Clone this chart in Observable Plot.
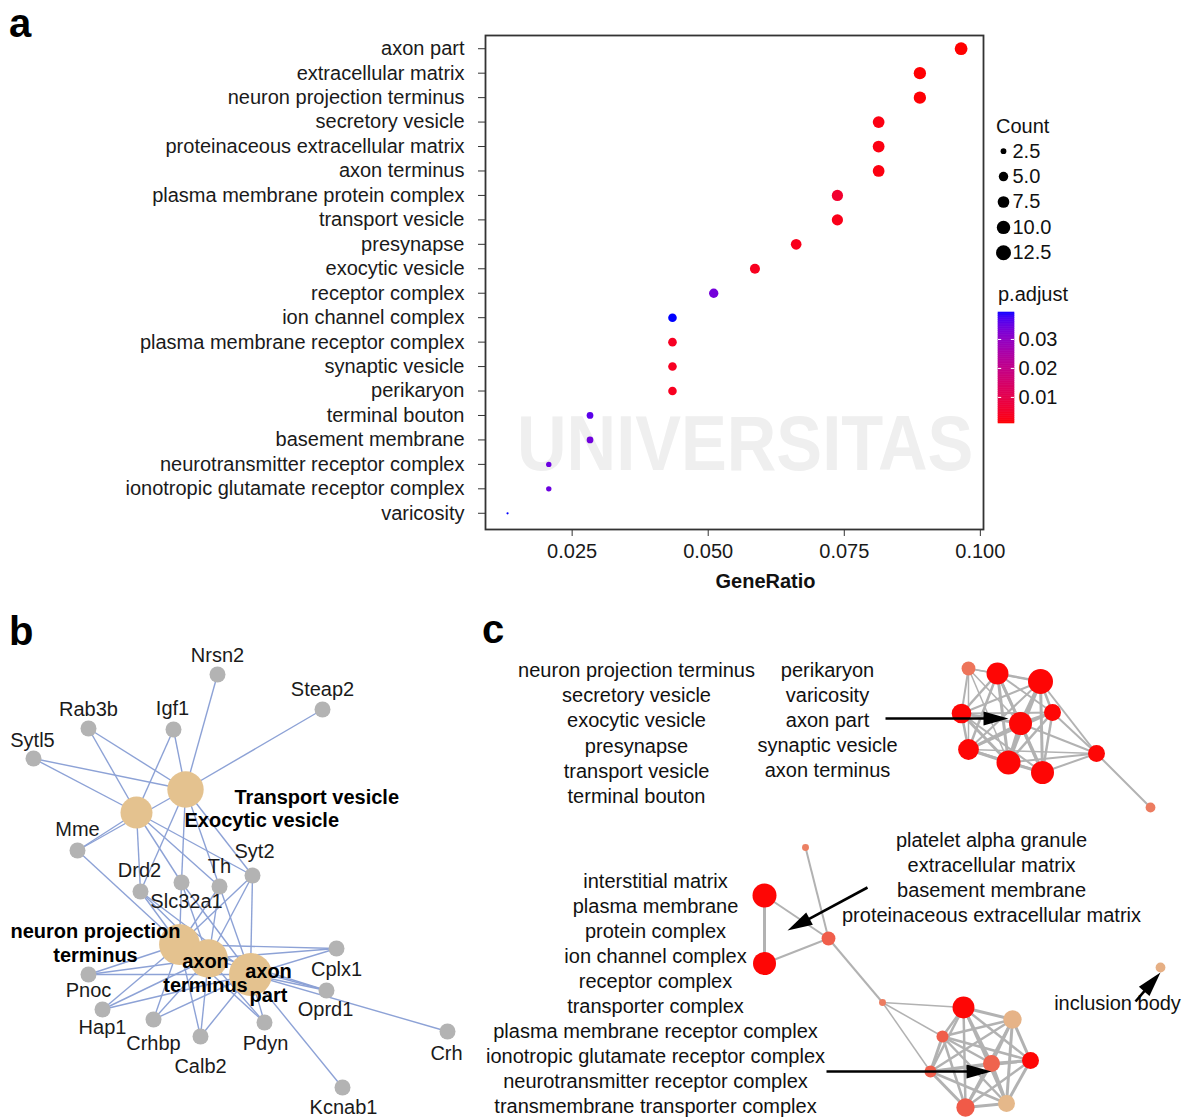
<!DOCTYPE html>
<html>
<head>
<meta charset="utf-8">
<script src="https://cdn.jsdelivr.net/npm/d3@7"></script>
<script src="https://cdn.jsdelivr.net/npm/@observablehq/plot@0.6"></script>
<style>
  body { margin: 0; background: #fff; font-family: "Liberation Sans", Arial, Helvetica, sans-serif; }
  #fig { position: relative; width: 1187px; height: 1117px; overflow: hidden; background: #fff; }
  .letter { position: absolute; font-weight: bold; font-size: 40px; line-height: 1.12; color: #000; }
  .legtitle { position: absolute; font-size: 20px; line-height: 20px; color: #111; }
  .wm { position: absolute; white-space: nowrap; color: #efefef; }
</style>
</head>
<body>
<div id="fig">
  <div class="wm" style="left:517px;top:404px;font-size:78px;line-height:78px;font-weight:bold;transform:scaleX(0.88);transform-origin:left top;">UNIVERSITAS</div>
  <div class="letter" style="left:9px;top:1px;">a</div>
  <div class="letter" style="left:9px;top:609px;">b</div>
  <div class="letter" style="left:482px;top:607px;">c</div>
  <div class="legtitle" style="left:996px;top:116px;">Count</div>
  <div class="legtitle" style="left:998px;top:284px;">p.adjust</div>
</div>
<script>
// ---------------- Panel a data ----------------
const terms = ["axon part","extracellular matrix","neuron projection terminus","secretory vesicle",
  "proteinaceous extracellular matrix","axon terminus","plasma membrane protein complex","transport vesicle",
  "presynapse","exocytic vesicle","receptor complex","ion channel complex","plasma membrane receptor complex",
  "synaptic vesicle","perikaryon","terminal bouton","basement membrane","neurotransmitter receptor complex",
  "ionotropic glutamate receptor complex","varicosity"];
const counts = [13,12,12,11,11,11,10,10,9,8,7,6,6,6,6,4,4,3,3,2];
const geneTotal = 132; // GeneRatio = Count / 132
const pAdjust = [0.0010,0.0011,0.0013,0.0022,0.0022,0.0020,0.0055,0.0028,0.0030,0.0035,0.0335,0.0393,0.0040,
  0.0038,0.0036,0.0360,0.0340,0.0345,0.0345,0.0393];
const xTicks = [0.025,0.050,0.075,0.100];
const countLegend = [2.5,5,7.5,10,12.5];
const pLegendTicks = [0.01,0.02,0.03];

// ---------------- Panel b data ----------------
const genes = ["Nrsn2","Steap2","Rab3b","Igf1","Sytl5","Mme","Drd2","Slc32a1","Th","Syt2","Cplx1","Oprd1",
  "Crh","Kcnab1","Pdyn","Calb2","Crhbp","Hap1","Pnoc"];
const geneLayoutX = [217,322,88,173,33,77,140,181,219,252,336,326,447,342,264,200,153,102,88];
const geneLayoutY = [674,709,728,729,758,850,891,882,886,875,948,990,1031,1087,1022,1036,1019,1009,974];
const hubs = ["Transport vesicle","Exocytic vesicle","neuron projection terminus","axon terminus","axon part"];
const hubCounts = [10,8,12,11,13];
const hubLayoutX = [185,136,179,208,250];
const hubLayoutY = [789,812,944,958,974];
const hubGenes = [
  ["Nrsn2","Steap2","Rab3b","Igf1","Sytl5","Mme","Drd2","Slc32a1","Th","Syt2"],
  ["Rab3b","Igf1","Sytl5","Mme","Drd2","Slc32a1","Th","Syt2"],
  ["Mme","Drd2","Slc32a1","Th","Syt2","Cplx1","Oprd1","Pnoc","Hap1","Crhbp","Calb2","Pdyn"],
  ["Drd2","Slc32a1","Th","Syt2","Cplx1","Oprd1","Pnoc","Hap1","Crhbp","Calb2","Pdyn"],
  ["Drd2","Slc32a1","Th","Syt2","Cplx1","Oprd1","Pnoc","Hap1","Crhbp","Calb2","Pdyn","Crh","Kcnab1"]
];

// ---------------- Panel c data ----------------
const cKeys = ["TB","TV","AP","EV","SV","PK","PS","NPT","AT","SYN","VAR","PAG","ECM","PECM","BM","IM",
  "PMPC","RC","NRC","IGRC","TC","PMRC","TTC","ICC","IB"];
const cTerms = ["terminal bouton","transport vesicle","axon part","exocytic vesicle","secretory vesicle","perikaryon",
  "presynapse","neuron projection terminus","axon terminus","synaptic vesicle","varicosity","platelet alpha granule",
  "extracellular matrix","proteinaceous extracellular matrix","basement membrane","interstitial matrix",
  "plasma membrane protein complex","receptor complex","neurotransmitter receptor complex",
  "ionotropic glutamate receptor complex","transporter complex","plasma membrane receptor complex",
  "transmembrane transporter complex","ion channel complex","inclusion body"];
const cLayoutX = [968,997,1040,961,1020,1052,968,1008,1042,1096,1150,805,764,764,828,882,963,1012,942,930,991,1030,965,1006,1160];
const cLayoutY = [668,673,681,713,723,712,749,762,772,753,807,847,895,963,938,1002,1007,1019,1036,1071,1063,1060,1107,1103,967];
const cCounts = [4,10,13,8,11,6,9,12,11,6,2,1,12,11,4,1,10,7,3,3,6,6,7,6,2];
const cP = [0.022,0.001,0.001,0.001,0.001,0.001,0.001,0.001,0.001,0.001,0.024,0.025,0.001,0.001,0.017,0.024,
  0.001,0.037,0.017,0.017,0.018,0.001,0.016,0.038,0.036];
const cEdges = [
  "TB TV 1.5","TB AP 1.5","TB EV 2","TB SV 1.5","TB PS 1.5","TB NPT 1.5",
  "TV AP 2.5","TV EV 2.5","TV SV 3","TV PK 2","TV PS 2.5","TV NPT 3","TV AT 2.5",
  "AP EV 2","AP SV 3.5","AP PK 2.5","AP PS 2","AP NPT 3","AP AT 3","AP SYN 2",
  "EV SV 3","EV PS 2.5","EV NPT 3","EV AT 2","EV PK 2",
  "SV PK 3","SV PS 3","SV NPT 4","SV AT 3.5","SV SYN 2",
  "PK PS 2","PK NPT 2.5","PK AT 2.5","PK SYN 2",
  "PS NPT 3","PS AT 2.5","PS SYN 1.5",
  "NPT AT 3","NPT SYN 2","AT SYN 2","SYN VAR 2",
  "ECM PECM 3","ECM BM 2","PECM BM 2","PAG BM 2","BM IM 2","IM PMPC 1.5","IM NRC 1.5","IM IGRC 1.5",
  "PMPC RC 3","PMPC NRC 2.5","PMPC IGRC 2.5","PMPC TC 3","PMPC PMRC 2.5","PMPC TTC 2.5","PMPC ICC 2.5",
  "RC NRC 2.5","RC IGRC 2.5","RC TC 3","RC PMRC 3","RC TTC 2.5","RC ICC 3",
  "NRC IGRC 3","NRC TC 2.5","NRC PMRC 2.5","NRC TTC 2.5","NRC ICC 2.5",
  "IGRC TC 3","IGRC PMRC 2.5","IGRC TTC 3","IGRC ICC 2.5",
  "TC PMRC 3","TC TTC 3","TC ICC 3.5","PMRC TTC 2.5","PMRC ICC 3","TTC ICC 3"
];
const cLabelGroups = [
  ["neuron projection terminus","secretory vesicle","exocytic vesicle","presynapse","transport vesicle","terminal bouton"],
  ["perikaryon","varicosity","axon part","synaptic vesicle","axon terminus"],
  ["platelet alpha granule","extracellular matrix","basement membrane","proteinaceous extracellular matrix"],
  ["interstitial matrix","plasma membrane","protein complex","ion channel complex","receptor complex",
   "transporter complex","plasma membrane receptor complex","ionotropic glutamate receptor complex",
   "neurotransmitter receptor complex","transmembrane transporter complex"],
  ["inclusion body"]
];

// ---------------- layout / style ----------------
const FONT = '"Liberation Sans", Arial, Helvetica, sans-serif';
const fig = document.getElementById("fig");
function place(node, left, top) {
  node.style.position = "absolute"; node.style.left = left + "px"; node.style.top = top + "px";
  fig.appendChild(node);
}
const colorA = {type: "linear", domain: [d3.min(pAdjust), d3.max(pAdjust)], range: ["#ff0000", "#0000ff"], interpolate: "lab"};
// area-style size scale (like ggplot scale_size): radius grows with sqrt(count - min)
const rA = {type: "pow", exponent: 0.5, transform: c => c - 2, domain: [0, 11], range: [1.1, 6.4]};
const rLegend = {type: "pow", exponent: 0.5, transform: c => c - 2, domain: [0, 11], range: [1.6, 7.6]};

// ---------------- Panel a ----------------
const dataA = terms.map((t, i) => ({term: t, count: counts[i], ratio: counts[i] / geneTotal, p: pAdjust[i]}));
const plotA = Plot.plot({
  width: 1012, height: 600,
  marginLeft: 485, marginRight: 29, marginTop: 35, marginBottom: 71,
  style: {fontFamily: FONT, fontSize: "20px", color: "#1a1a1a", background: "transparent"},
  x: {domain: [0.0111, 0.1026]},
  y: {type: "point", domain: terms, padding: 0.5, insetTop: 1, insetBottom: 4, round: false},
  r: rA,
  color: colorA,
  marks: [
    Plot.axisY({tickSize: 7, tickPadding: 14, label: null, stroke: "#333"}),
    Plot.axisX({ticks: xTicks, tickSize: 7, tickPadding: 7, dx: 11, tickFormat: d3.format(".3f"), label: null, stroke: "#333"}),
    Plot.dot(dataA, {x: "ratio", y: "term", r: "count", fill: "p"}),
    Plot.frame({stroke: "#333", strokeWidth: 1.8}),
    Plot.text(["GeneRatio"], {frameAnchor: "bottom", dy: 58, dx: 31, fontWeight: "bold", fontSize: 20, fill: "#111"})
  ]
});
place(plotA, 0, 0);

// size legend
const fmt1 = d3.format(".1f");
const sizeLegend = Plot.plot({
  width: 100, height: 127, margin: 0,
  style: {fontFamily: FONT, fontSize: "20px", color: "#111", background: "transparent"},
  x: {domain: [0, 100], range: [0, 100], axis: null},
  y: {type: "point", domain: countLegend.map(fmt1), padding: 0.5, axis: null, round: false},
  r: rLegend,
  marks: [
    Plot.dot(countLegend, {x: () => 18, y: d => fmt1(d), r: d => d, fill: "#000"}),
    Plot.text(countLegend, {x: () => 27, y: d => fmt1(d), text: d => fmt1(d), textAnchor: "start", fill: "#111"})
  ]
});
place(sizeLegend, 985, 138);

// color bar legend
const nSteps = 60;
const [pLo, pHi] = colorA.domain;
const steps = d3.range(nSteps).map(i => [pLo + (pHi - pLo) * i / nSteps, pLo + (pHi - pLo) * (i + 1) / nSteps]);
const colorBar = Plot.plot({
  width: 100, height: 125, marginLeft: 8, marginRight: 76, marginTop: 7, marginBottom: 7,
  style: {fontFamily: FONT, fontSize: "20px", color: "#111", background: "transparent"},
  x: {domain: [0, 1], axis: null},
  y: {domain: [pLo, pHi], axis: null},
  color: colorA,
  marks: [
    Plot.rect(steps, {x1: () => 0, x2: () => 1, y1: d => d[0], y2: d => d[1], fill: d => (d[0] + d[1]) / 2, stroke: d => (d[0] + d[1]) / 2, strokeWidth: 0.6}),
    Plot.ruleY(pLegendTicks, {x1: () => 0, x2: () => 0.2, stroke: "white", strokeWidth: 1}),
    Plot.ruleY(pLegendTicks, {x1: () => 0.8, x2: () => 1, stroke: "white", strokeWidth: 1}),
    Plot.axisY({anchor: "right", ticks: pLegendTicks, tickSize: 0, tickPadding: 4, tickFormat: d3.format(".2f"), label: null})
  ]
});
place(colorBar, 990, 305);

// ---------------- Panel b ----------------
const geneNodes = genes.map((g, i) => ({id: g, x: geneLayoutX[i], y: geneLayoutY[i]}));
const geneById = new Map(geneNodes.map(d => [d.id, d]));
const hubNodes = hubs.map((h, i) => ({id: h, x: hubLayoutX[i], y: hubLayoutY[i], count: hubCounts[i]}));
const bEdges = hubNodes.flatMap((h, i) => hubGenes[i].map(g => ({x1: geneById.get(g).x, y1: geneById.get(g).y, x2: h.x, y2: h.y})));
// label offsets relative to each gene node (style)
const geneLabelOffset = {
  Nrsn2: [0,-19], Steap2: [0,-20], Rab3b: [0,-19], Igf1: [-1,-21], Sytl5: [-1,-18], Mme: [0,-21],
  Drd2: [-1,-21], Slc32a1: [5,19], Th: [0,-20], Syt2: [2,-24], Cplx1: [0,21], Oprd1: [-1,19],
  Crh: [-1,22], Kcnab1: [1,20], Pdyn: [1,21], Calb2: [0,30], Crhbp: [0,24], Hap1: [0,18], Pnoc: [0,16]
};
const hubLabelLayout = [
  {lines: ["Transport vesicle"], x: 234, y: 797, anchor: "start"},
  {lines: ["Exocytic vesicle"], x: 184, y: 820, anchor: "start"},
  {lines: ["neuron projection", "terminus"], x: 95, y: 931, anchor: "middle"},
  {lines: ["axon", "terminus"], x: 205, y: 961, anchor: "middle"},
  {lines: ["axon", "part"], x: 268, y: 971, anchor: "middle"}
];
const hubLabelLines = hubLabelLayout.flatMap(L => L.lines.map((t, j) => ({text: t, x: L.x, y: L.y + j * 24, anchor: L.anchor})));
const plotB = Plot.plot({
  width: 480, height: 477, margin: 0,
  style: {fontFamily: FONT, fontSize: "20px", color: "#111", background: "transparent"},
  x: {domain: [0, 480], range: [0, 480], axis: null},
  y: {domain: [640, 1117], range: [0, 477], axis: null},
  r: {type: "linear", domain: [8, 13], range: [16, 21.5]},
  marks: [
    Plot.link(bEdges, {x1: "x1", y1: "y1", x2: "x2", y2: "y2", stroke: "#8da2d6", strokeWidth: 1.4}),
    Plot.dot(hubNodes, {x: "x", y: "y", r: "count", fill: "#e4c28f"}),
    Plot.dot(geneNodes, {x: "x", y: "y", r: 8, fill: "#b3b3b3"}),
    ...geneNodes.map(d => Plot.text([d], {x: "x", y: "y", text: "id", dx: geneLabelOffset[d.id][0], dy: geneLabelOffset[d.id][1], fill: "#1a1a1a"})),
    Plot.text(hubLabelLines.filter(d => d.anchor === "start"), {x: "x", y: "y", text: "text", textAnchor: "start", fontWeight: "bold", fill: "#000"}),
    Plot.text(hubLabelLines.filter(d => d.anchor === "middle"), {x: "x", y: "y", text: "text", textAnchor: "middle", fontWeight: "bold", fill: "#000"})
  ]
});
place(plotB, 0, 640);

// ---------------- Panel c ----------------
const cNodes = cKeys.map((k, i) => ({key: k, term: cTerms[i], x: cLayoutX[i], y: cLayoutY[i], count: cCounts[i], p: cP[i]}));
const cById = new Map(cNodes.map(d => [d.key, d]));
const cLinks = cEdges.map(s => { const [a, b, w] = s.split(" "); const A = cById.get(a), B = cById.get(b);
  return {x1: A.x, y1: A.y, x2: B.x, y2: B.y, w: +w}; });
const cLabelLayout = [
  {x: 636, y: 670, step: 25.2}, {x: 827, y: 670, step: 25.1}, {x: 991, y: 840, step: 25},
  {x: 655, y: 881, step: 25}, {x: 1117, y: 1003, step: 25}
];
const cLabelLines = cLabelGroups.flatMap((g, gi) => g.map((t, j) => ({text: t, x: cLabelLayout[gi].x, y: cLabelLayout[gi].y + j * cLabelLayout[gi].step})));
// arrows (tail -> tip)
const arrowTailX = [885, 867, 826, 1135], arrowTailY = [718, 887, 1071, 1001];
const arrowTipX = [1008, 787, 991, 1160], arrowTipY = [718, 930, 1071, 972];
const HEAD = 25, HALF = 7;
const arrows = arrowTailX.map((_, i) => {
  const dx = arrowTipX[i] - arrowTailX[i], dy = arrowTipY[i] - arrowTailY[i], L = Math.hypot(dx, dy);
  return {x1: arrowTailX[i], y1: arrowTailY[i], x2: arrowTipX[i] - dx / L * (HEAD - 3), y2: arrowTipY[i] - dy / L * (HEAD - 3),
    tx: arrowTipX[i], ty: arrowTipY[i], angle: Math.atan2(dx, -dy) * 180 / Math.PI};
});
const headSymbol = {draw(ctx) { ctx.moveTo(0, 0); ctx.lineTo(-HALF, HEAD); ctx.lineTo(HALF, HEAD); ctx.closePath(); }};
const plotC = Plot.plot({
  width: 707, height: 477, margin: 0,
  style: {fontFamily: FONT, fontSize: "20px", color: "#111", background: "transparent"},
  x: {domain: [480, 1187], range: [0, 707], axis: null},
  y: {domain: [640, 1117], range: [0, 477], axis: null},
  r: {type: "sqrt", domain: [0, 13], range: [0, 12.5]},
  color: {type: "linear", domain: [0, 0.016, 0.04], range: ["#ff0000", "#f05a48", "#e4c090"]},
  marks: [
    Plot.link(cLinks, {x1: "x1", y1: "y1", x2: "x2", y2: "y2", strokeWidth: "w", stroke: "#b2b2b2"}),
    Plot.dot(cNodes, {x: "x", y: "y", r: "count", fill: "p"}),
    Plot.text(cLabelLines, {x: "x", y: "y", text: "text", textAnchor: "middle", fill: "#111"}),
    Plot.link(arrows, {x1: "x1", y1: "y1", x2: "x2", y2: "y2", stroke: "#000", strokeWidth: 2.6}),
    Plot.dot(arrows, {x: "tx", y: "ty", r: 5, symbol: headSymbol, rotate: "angle", fill: "#000", stroke: null})
  ]
});
place(plotC, 480, 640);
</script>
</body>
</html>
